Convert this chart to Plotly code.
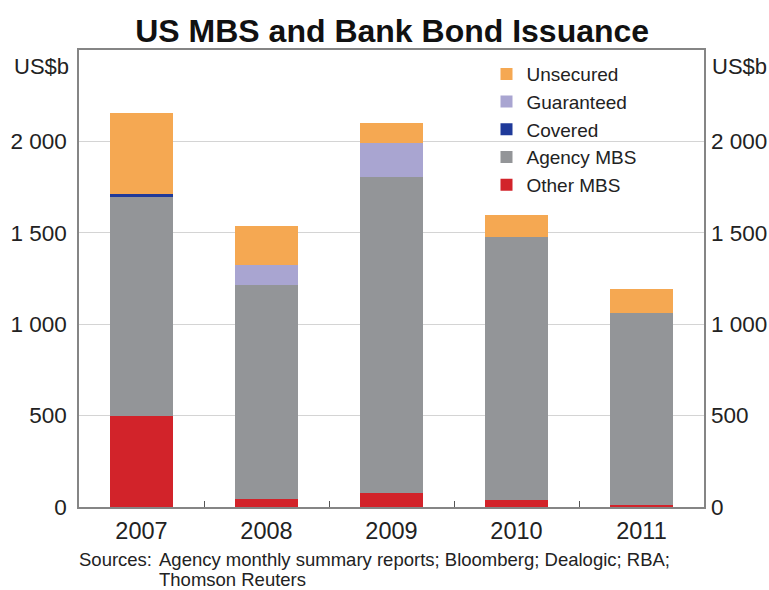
import plotly.graph_objects as go

# Annual issuance by type, US$ billions
years = ["2007", "2008", "2009", "2010", "2011"]
other_mbs = [500, 45, 75, 38, 10]
agency_mbs = [1195, 1172, 1728, 1438, 1052]
covered = [15, 0, 0, 0, 0]
guaranteed = [0, 109, 190, 0, 0]
unsecured = [443, 210, 110, 120, 131]

y_tickvals = [0, 500, 1000, 1500, 2000]
y_ticktext = ["0", "500", "1 000", "1 500", "2 000"]

series = [
    ("Other MBS", other_mbs, "#D2232A"),
    ("Agency MBS", agency_mbs, "#939598"),
    ("Covered", covered, "#1F3A9A"),
    ("Guaranteed", guaranteed, "#A9A5D1"),
    ("Unsecured", unsecured, "#F5A852"),
]

FONT = "Liberation Sans, Arial, sans-serif"
TXT = "#222222"

fig = go.Figure()
for name, vals, color in series:
    fig.add_trace(go.Bar(
        x=years, y=vals, name=name, width=0.5,
        marker=dict(color=color, line=dict(width=0)),
    ))

# invisible trace so the right-hand axis is drawn
totals = [sum(v) for v in zip(other_mbs, agency_mbs, covered, guaranteed, unsecured)]
fig.add_trace(go.Scatter(x=years, y=totals, yaxis="y2", mode="markers",
                         marker=dict(opacity=0), showlegend=False, hoverinfo="skip"))

axis_common = dict(
    range=[0, 2500], tickvals=y_tickvals, ticktext=y_ticktext,
    tickfont=dict(size=22.5, color=TXT), ticks="", fixedrange=True,
    automargin=False,
)

fig.update_layout(
    width=769, height=590,
    margin=dict(l=79, r=65, t=50, b=83, autoexpand=False),
    paper_bgcolor="white", plot_bgcolor="white",
    font=dict(family=FONT, color=TXT),
    barmode="stack", bargap=0.5,
    title=dict(text="<b>US MBS and Bank Bond Issuance</b>", x=0.51, xanchor="center",
               y=0.948, yanchor="middle", font=dict(size=32, color="#111"),
               automargin=False),
    xaxis=dict(
        type="category", range=[-0.5, 4.5], automargin=False,
        tickfont=dict(size=23.5, color=TXT), ticklabelstandoff=2,
        ticks="inside", tickson="boundaries", ticklen=6, tickcolor="#555",
        showline=True, linecolor="#858585", linewidth=1.5, mirror=True,
        showgrid=False,
    ),
    yaxis=dict(
        **axis_common, side="left",
        showgrid=True, gridcolor="#D4D4D4", gridwidth=1,
        showline=True, linecolor="#858585", linewidth=1.5, mirror=True,
        zeroline=False, ticklabelstandoff=6,
    ),
    yaxis2=dict(
        **axis_common, side="right", overlaying="y",
        showgrid=False, showline=False, zeroline=False, ticklabelstandoff=6,
    ),
    legend=dict(
        x=0.652, y=0.989, xanchor="left", yanchor="top",
        traceorder="reversed", bgcolor="rgba(0,0,0,0)",
        font=dict(size=19, color=TXT),
    ),
    showlegend=True,
)

fig.add_annotation(text="US$b", xref="paper", yref="paper", x=0, y=0.963,
                   xanchor="right", yanchor="middle", xshift=-8, showarrow=False,
                   font=dict(size=22, color=TXT))
fig.add_annotation(text="US$b", xref="paper", yref="paper", x=1, y=0.963,
                   xanchor="left", yanchor="middle", xshift=6, showarrow=False,
                   font=dict(size=22, color=TXT))
fig.add_annotation(text="Sources:", xref="paper", yref="paper", x=0, y=-0.114,
                   xanchor="left", yanchor="middle", showarrow=False, xshift=-2,
                   font=dict(size=18.5, color=TXT))
fig.add_annotation(text="Agency monthly summary reports; Bloomberg; Dealogic; RBA;",
                   xref="paper", yref="paper", x=0.125, y=-0.114,
                   xanchor="left", yanchor="middle", showarrow=False,
                   font=dict(size=18.5, color=TXT))
fig.add_annotation(text="Thomson Reuters",
                   xref="paper", yref="paper", x=0.125, y=-0.158,
                   xanchor="left", yanchor="middle", showarrow=False,
                   font=dict(size=18.5, color=TXT))

fig.write_html("out.html")
